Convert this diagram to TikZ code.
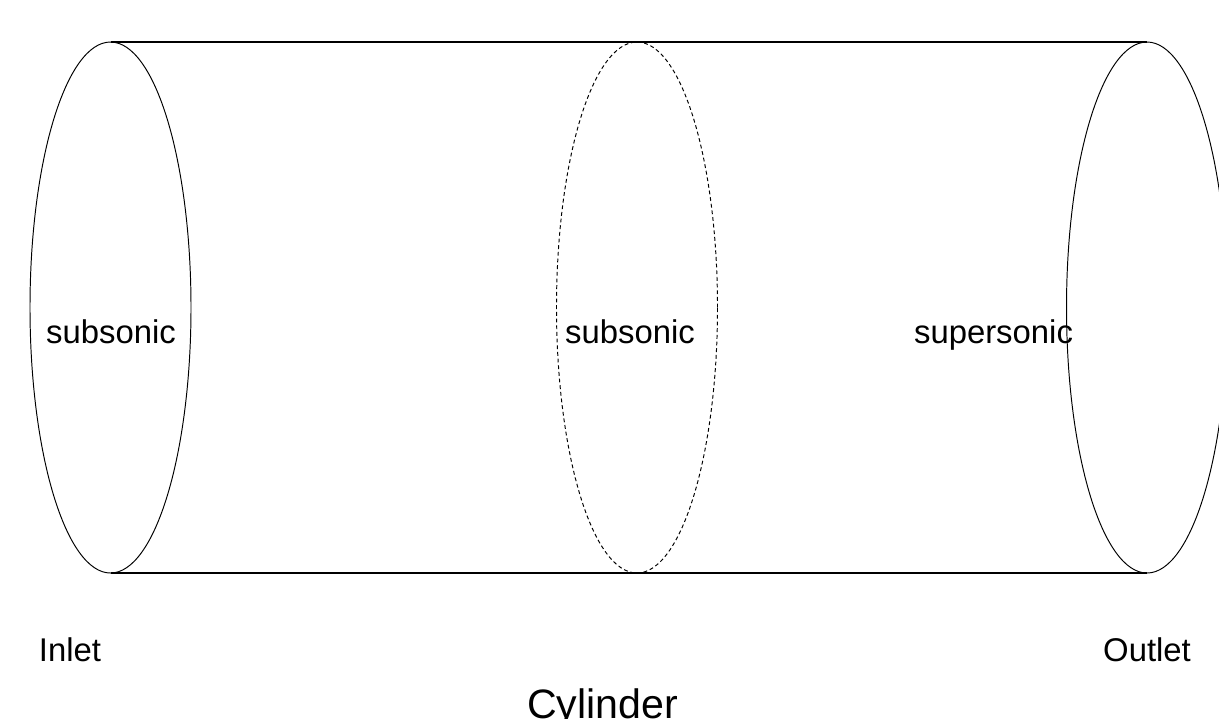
\documentclass[tikz,border=0pt]{standalone}
\usepackage{fontspec}
\setmainfont{Liberation Sans}
\usetikzlibrary{shapes.geometric}

\tikzset{
  section/.style={draw, ellipse, inner sep=0pt, outer sep=0pt, line width=0.55pt,
    minimum width=161\pxu, minimum height=531\pxu},
  wall/.style={line width=1.1pt},
  flowlabel/.style={anchor=base, inner sep=0pt, font=\fontsize{18.7pt}{22pt}\selectfont},
}
\newcommand{\pxu}{*0.02cm}

\begin{document}
\begin{tikzpicture}[x=0.02cm, y=-0.02cm]
  \useasboundingbox (0,0) rectangle (1219,718);
  \clip (0,0) rectangle (1219,718);
  % inlet / throat / outlet
  \node[section] (inlet) at (110.5,307.5) {};
  \node[section, dashed, dash pattern=on 2.2pt off 1.6pt] (throat) at (637,307.5) {};
  \node[section] (outlet) at (1147,307.5) {};
  % walls
  \draw[wall] (inlet.north) -- (outlet.north);
  \draw[wall] (inlet.south) -- (outlet.south);
  % labels
  \node[flowlabel] (inletflow) at (111,343) {subsonic};
  \node[flowlabel] (throatflow) at (630,343) {subsonic};
  \node[flowlabel] (outletflow) at (993.5,343) {supersonic};
  \node[flowlabel] (inletlabel) at (70,661) {Inlet};
  \node[flowlabel] (outletlabel) at (1147,661) {Outlet};
  \node[flowlabel, font=\fontsize{23.4pt}{28pt}\selectfont] (title) at (602.5,718) {Cylinder};
\end{tikzpicture}
\end{document}
